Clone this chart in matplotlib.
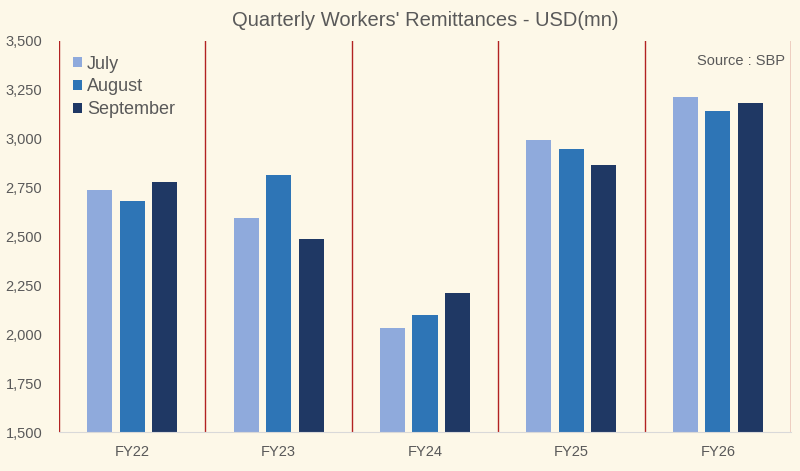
import numpy as np
import matplotlib.pyplot as plt

plt.rcParams['font.family'] = ['Liberation Sans', 'DejaVu Sans']

years = ['FY22', 'FY23', 'FY24', 'FY25', 'FY26']
months = ['July', 'August', 'September']
july = [2738, 2595, 2032, 2994, 3212]
august = [2683, 2815, 2098, 2948, 3140]
september = [2777, 2487, 2211, 2866, 3181]

colors = ['#8FAADC', '#2E75B6', '#1F3864']
bg = '#FDF8E8'
grey = '#595959'

fig = plt.figure(figsize=(8, 4.71), dpi=100, facecolor=bg)
ax = fig.add_axes([0.07375, 0.0828, 0.915, 0.8302])
ax.set_facecolor(bg)

x = np.arange(len(years))
w = 0.172
step = 0.222
for i, (vals, lab) in enumerate(zip([july, august, september], months)):
    ax.bar(x + (i - 1) * step, vals, width=w, color=colors[i], label=lab, zorder=2)

# red separators between fiscal years
for b in np.arange(-0.5, len(years), 1.0):
    ax.axvline(b, color='#B22222', lw=1.0, zorder=1)

ax.set_xlim(-0.5, len(years) - 0.5)
ax.set_ylim(1500, 3500)
ax.set_yticks(np.arange(1500, 3501, 250))
ax.set_yticklabels([f'{v:,}' for v in range(1500, 3501, 250)])
ax.set_xticks(x)
ax.set_xticklabels(years)
ax.tick_params(length=0, colors=grey, labelsize=10.5)
ax.tick_params(axis='x', pad=9)
ax.tick_params(axis='y', pad=12)

for s in ['top', 'left', 'right']:
    ax.spines[s].set_visible(False)
ax.spines['bottom'].set_color('#D9D9D9')

ax.set_title("Quarterly Workers' Remittances - USD(mn)", fontsize=14.5, color=grey, pad=11)

ax.legend(loc='upper left', bbox_to_anchor=(-0.006, 1.009), frameon=False, fontsize=13,
          labelcolor=grey, handlelength=0.5, handleheight=0.5, handletextpad=0.3,
          labelspacing=0.33, borderaxespad=0.6)

ax.text(0.992, 0.95, 'Source : SBP', transform=ax.transAxes, ha='right', va='center',
        fontsize=10.5, color=grey)

plt.savefig('out.png', dpi=100, facecolor=bg)
